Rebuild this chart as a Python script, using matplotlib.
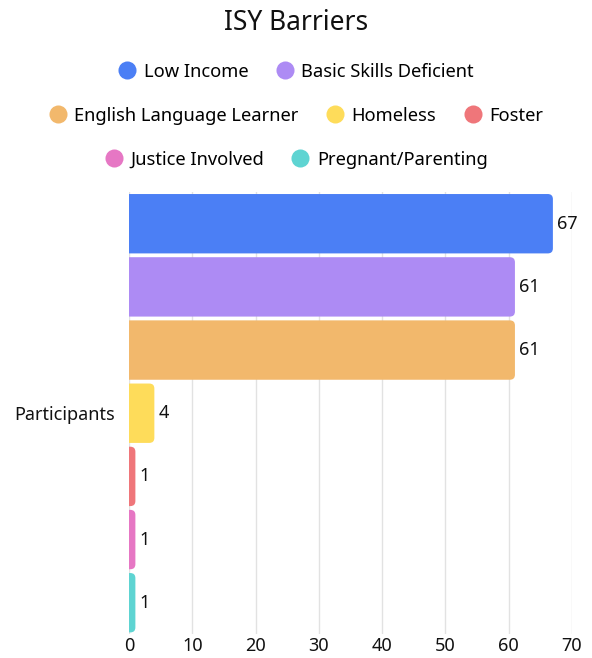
"""ISY barriers horizontal bar chart."""

import matplotlib
matplotlib.use("Agg")
import matplotlib.pyplot as plt
from matplotlib.patches import FancyBboxPatch
from matplotlib.lines import Line2D

CATEGORY = "Participants"
BARRIERS = ["Low Income", "Basic Skills Deficient", "English Language Learner",
            "Homeless", "Foster", "Justice Involved", "Pregnant/Parenting"]
COUNTS = [67, 61, 61, 4, 1, 1, 1]
COLORS = ["#4b7ff5", "#ad8bf4", "#f2b86c", "#fedc5a", "#ef767a", "#e677c4", "#5ed4d2"]
LEGEND_ROWS = [[0, 1], [2, 3, 4], [5, 6]]
XTICKS = [0, 10, 20, 30, 40, 50, 60, 70]

plt.rcParams["font.family"] = ["Noto Sans", "DejaVu Sans"]

fig = plt.figure(figsize=(5.92, 6.58), dpi=100)
ax = fig.add_axes([0.218, 0.036, 0.748, 0.672])

height = 0.94
radius = 0.8
for i, (value, color) in enumerate(zip(COUNTS, COLORS)):
    patch = FancyBboxPatch((-radius, i - height / 2), value + radius, height,
                           boxstyle=f"round,pad=0,rounding_size={radius}",
                           mutation_aspect=0.1, facecolor=color, edgecolor="none", zorder=3)
    ax.add_patch(patch)
    ax.text(value + 0.6, i, str(value), va="center", ha="left", fontsize=13, color="#111111")

ax.set_xlim(0, 70)
ax.set_ylim(len(COUNTS) - 0.5, -0.5)
ax.set_xticks(XTICKS)
ax.set_yticks([(len(COUNTS) - 1) / 2])
ax.set_yticklabels([CATEGORY])
ax.tick_params(length=0, labelsize=13, colors="#111111")
ax.tick_params(axis="y", pad=10)
ax.tick_params(axis="x", pad=2)
ax.grid(axis="x", color="#e2e2e2", linewidth=1, zorder=0)
ax.set_axisbelow(True)
for spine in ax.spines.values():
    spine.set_visible(False)

fig.text(0.5, 0.965, "ISY Barriers", ha="center", va="center", fontsize=19, color="#111111")

for row, y in zip(LEGEND_ROWS, [0.891, 0.824, 0.757]):
    handles = [Line2D([], [], marker="o", linestyle="none", markersize=13,
                      markerfacecolor=COLORS[k], markeredgecolor="none") for k in row]
    fig.legend(handles, [BARRIERS[k] for k in row], loc="center", bbox_to_anchor=(0.5, y),
               ncol=len(row), frameon=False, fontsize=13.2, handletextpad=0.4,
               columnspacing=1.5, handlelength=1.0)

fig.savefig("out.png", dpi=100)
